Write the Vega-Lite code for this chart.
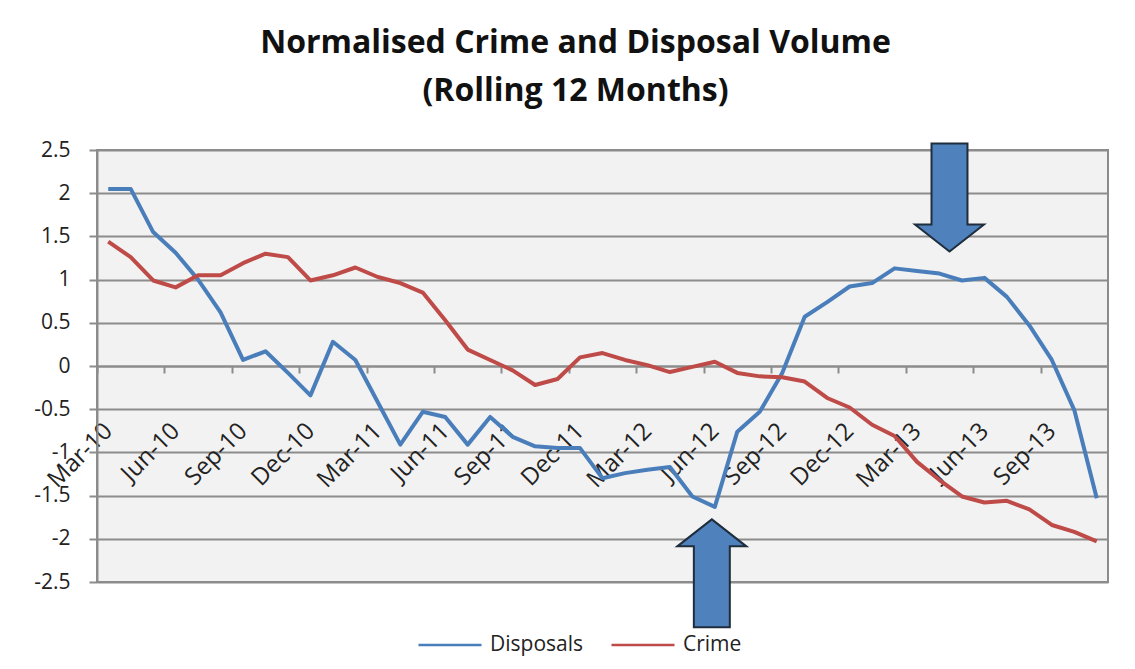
{
  "$schema": "https://vega.github.io/schema/vega-lite/v6.json",
  "width": 1011,
  "height": 432,
  "autosize": {"type": "none"},
  "padding": {"left": 97, "top": 150, "right": 27, "bottom": 87},
  "background": "white",
  "title": {
    "text": ["Normalised Crime and Disposal Volume", "(Rolling 12 Months)"],
    "font": "Open Sans",
    "fontSize": 32,
    "fontWeight": "bold",
    "color": "#111111",
    "anchor": "middle",
    "dx": -27,
    "offset": 31,
    "lineHeight": 48
  },
  "config": {
    "view": {"fill": "#f2f2f2", "stroke": "#8c8c8c", "strokeWidth": 2},
    "axis": {"labelFont": "Open Sans", "labelColor": "#222222"}
  },
  "datasets": {
    "series": [
      {"Month": "Mar-10", "Series": "Disposals", "Value": 2.05},
      {"Month": "Apr-10", "Series": "Disposals", "Value": 2.05},
      {"Month": "May-10", "Series": "Disposals", "Value": 1.55},
      {"Month": "Jun-10", "Series": "Disposals", "Value": 1.31},
      {"Month": "Jul-10", "Series": "Disposals", "Value": 1.0},
      {"Month": "Aug-10", "Series": "Disposals", "Value": 0.62},
      {"Month": "Sep-10", "Series": "Disposals", "Value": 0.07},
      {"Month": "Oct-10", "Series": "Disposals", "Value": 0.17},
      {"Month": "Nov-10", "Series": "Disposals", "Value": -0.08},
      {"Month": "Dec-10", "Series": "Disposals", "Value": -0.34},
      {"Month": "Jan-11", "Series": "Disposals", "Value": 0.28},
      {"Month": "Feb-11", "Series": "Disposals", "Value": 0.07},
      {"Month": "Mar-11", "Series": "Disposals", "Value": -0.42},
      {"Month": "Apr-11", "Series": "Disposals", "Value": -0.91},
      {"Month": "May-11", "Series": "Disposals", "Value": -0.53},
      {"Month": "Jun-11", "Series": "Disposals", "Value": -0.59},
      {"Month": "Jul-11", "Series": "Disposals", "Value": -0.91},
      {"Month": "Aug-11", "Series": "Disposals", "Value": -0.59},
      {"Month": "Sep-11", "Series": "Disposals", "Value": -0.82},
      {"Month": "Oct-11", "Series": "Disposals", "Value": -0.93},
      {"Month": "Nov-11", "Series": "Disposals", "Value": -0.95},
      {"Month": "Dec-11", "Series": "Disposals", "Value": -0.95},
      {"Month": "Jan-12", "Series": "Disposals", "Value": -1.3},
      {"Month": "Feb-12", "Series": "Disposals", "Value": -1.24},
      {"Month": "Mar-12", "Series": "Disposals", "Value": -1.2},
      {"Month": "Apr-12", "Series": "Disposals", "Value": -1.17},
      {"Month": "May-12", "Series": "Disposals", "Value": -1.51},
      {"Month": "Jun-12", "Series": "Disposals", "Value": -1.63},
      {"Month": "Jul-12", "Series": "Disposals", "Value": -0.76},
      {"Month": "Aug-12", "Series": "Disposals", "Value": -0.53},
      {"Month": "Sep-12", "Series": "Disposals", "Value": -0.08},
      {"Month": "Oct-12", "Series": "Disposals", "Value": 0.57},
      {"Month": "Nov-12", "Series": "Disposals", "Value": 0.74},
      {"Month": "Dec-12", "Series": "Disposals", "Value": 0.92},
      {"Month": "Jan-13", "Series": "Disposals", "Value": 0.96},
      {"Month": "Feb-13", "Series": "Disposals", "Value": 1.13},
      {"Month": "Mar-13", "Series": "Disposals", "Value": 1.1},
      {"Month": "Apr-13", "Series": "Disposals", "Value": 1.07},
      {"Month": "May-13", "Series": "Disposals", "Value": 0.99},
      {"Month": "Jun-13", "Series": "Disposals", "Value": 1.02},
      {"Month": "Jul-13", "Series": "Disposals", "Value": 0.8},
      {"Month": "Aug-13", "Series": "Disposals", "Value": 0.47},
      {"Month": "Sep-13", "Series": "Disposals", "Value": 0.07},
      {"Month": "Oct-13", "Series": "Disposals", "Value": -0.51},
      {"Month": "Nov-13", "Series": "Disposals", "Value": -1.53},
      {"Month": "Mar-10", "Series": "Crime", "Value": 1.44},
      {"Month": "Apr-10", "Series": "Crime", "Value": 1.26},
      {"Month": "May-10", "Series": "Crime", "Value": 0.99},
      {"Month": "Jun-10", "Series": "Crime", "Value": 0.91},
      {"Month": "Jul-10", "Series": "Crime", "Value": 1.05},
      {"Month": "Aug-10", "Series": "Crime", "Value": 1.05},
      {"Month": "Sep-10", "Series": "Crime", "Value": 1.19},
      {"Month": "Oct-10", "Series": "Crime", "Value": 1.3},
      {"Month": "Nov-10", "Series": "Crime", "Value": 1.26},
      {"Month": "Dec-10", "Series": "Crime", "Value": 0.99},
      {"Month": "Jan-11", "Series": "Crime", "Value": 1.05},
      {"Month": "Feb-11", "Series": "Crime", "Value": 1.14},
      {"Month": "Mar-11", "Series": "Crime", "Value": 1.03},
      {"Month": "Apr-11", "Series": "Crime", "Value": 0.96},
      {"Month": "May-11", "Series": "Crime", "Value": 0.85},
      {"Month": "Jun-11", "Series": "Crime", "Value": 0.53},
      {"Month": "Jul-11", "Series": "Crime", "Value": 0.19},
      {"Month": "Aug-11", "Series": "Crime", "Value": 0.07},
      {"Month": "Sep-11", "Series": "Crime", "Value": -0.05},
      {"Month": "Oct-11", "Series": "Crime", "Value": -0.22},
      {"Month": "Nov-11", "Series": "Crime", "Value": -0.15},
      {"Month": "Dec-11", "Series": "Crime", "Value": 0.1},
      {"Month": "Jan-12", "Series": "Crime", "Value": 0.15},
      {"Month": "Feb-12", "Series": "Crime", "Value": 0.07},
      {"Month": "Mar-12", "Series": "Crime", "Value": 0.01},
      {"Month": "Apr-12", "Series": "Crime", "Value": -0.07},
      {"Month": "May-12", "Series": "Crime", "Value": -0.01},
      {"Month": "Jun-12", "Series": "Crime", "Value": 0.05},
      {"Month": "Jul-12", "Series": "Crime", "Value": -0.08},
      {"Month": "Aug-12", "Series": "Crime", "Value": -0.12},
      {"Month": "Sep-12", "Series": "Crime", "Value": -0.13},
      {"Month": "Oct-12", "Series": "Crime", "Value": -0.18},
      {"Month": "Nov-12", "Series": "Crime", "Value": -0.37},
      {"Month": "Dec-12", "Series": "Crime", "Value": -0.48},
      {"Month": "Jan-13", "Series": "Crime", "Value": -0.68},
      {"Month": "Feb-13", "Series": "Crime", "Value": -0.81},
      {"Month": "Mar-13", "Series": "Crime", "Value": -1.11},
      {"Month": "Apr-13", "Series": "Crime", "Value": -1.32},
      {"Month": "May-13", "Series": "Crime", "Value": -1.51},
      {"Month": "Jun-13", "Series": "Crime", "Value": -1.58},
      {"Month": "Jul-13", "Series": "Crime", "Value": -1.56},
      {"Month": "Aug-13", "Series": "Crime", "Value": -1.66},
      {"Month": "Sep-13", "Series": "Crime", "Value": -1.84},
      {"Month": "Oct-13", "Series": "Crime", "Value": -1.92},
      {"Month": "Nov-13", "Series": "Crime", "Value": -2.03}
    ]
  },
  "layer": [
    {
      "data": {"name": "series"},
      "mark": {"type": "line", "strokeWidth": 4, "strokeJoin": "round"},
      "encoding": {
        "x": {
          "field": "Month",
          "type": "ordinal",
          "sort": null,
          "scale": {"type": "point", "padding": 0.5},
          "title": null,
          "axis": {
            "values": ["Mar-10", "Jun-10", "Sep-10", "Dec-10", "Mar-11", "Jun-11", "Sep-11", "Dec-11", "Mar-12", "Jun-12", "Sep-12", "Dec-12", "Mar-13", "Jun-13", "Sep-13"],
            "offset": -216,
            "domainColor": "#8c8c8c",
            "domainWidth": 2,
            "tickColor": "#8c8c8c",
            "tickWidth": 2,
            "tickSize": 7,
            "tickOffset": -11.23,
            "labelOffset": 11.23,
            "labelAngle": -45,
            "labelAlign": "right",
            "labelBaseline": "middle",
            "labelPadding": 54,
            "labelFontSize": 24,
            "grid": false
          }
        },
        "y": {
          "field": "Value",
          "type": "quantitative",
          "scale": {"domain": [-2.5, 2.5], "nice": false, "zero": false},
          "title": null,
          "axis": {
            "values": [-2.5, -2, -1.5, -1, -0.5, 0, 0.5, 1, 1.5, 2, 2.5],
            "labelExpr": "'' + datum.value",
            "labelFontSize": 21,
            "labelPadding": 19,
            "tickSize": 8,
            "tickColor": "#8c8c8c",
            "tickWidth": 2,
            "domainColor": "#8c8c8c",
            "domainWidth": 2,
            "grid": true,
            "gridColor": "#8c8c8c",
            "gridWidth": 2
          }
        },
        "color": {
          "field": "Series",
          "type": "nominal",
          "sort": ["Disposals", "Crime"],
          "scale": {"domain": ["Disposals", "Crime"], "range": ["#4a7ebb", "#be4b48"]},
          "legend": {
            "title": null,
            "orient": "none",
            "direction": "horizontal",
            "legendX": 320,
            "legendY": 462,
            "symbolType": "stroke",
            "symbolSize": 3969,
            "symbolStrokeWidth": 2.5,
            "labelFont": "Open Sans",
            "labelFontSize": 21,
            "labelColor": "#222222",
            "labelOffset": 7,
            "columnPadding": 22
          }
        }
      }
    },
    {
      "data": {"values": [{"Month": "Apr-13", "Value": 1.95}]},
      "mark": {
        "type": "point",
        "shape": "M-0.333,-1L0.333,-1L0.333,0.5L0.639,0.5L0,1L-0.639,0.5L-0.333,0.5Z",
        "size": 11664,
        "filled": true,
        "fill": "#4f81bd",
        "fillOpacity": 1,
        "stroke": "#1f2d3d",
        "strokeWidth": 2,
        "opacity": 1,
        "xOffset": 10
      },
      "encoding": {
        "x": {"field": "Month", "type": "ordinal", "sort": null},
        "y": {"field": "Value", "type": "quantitative"}
      }
    },
    {
      "data": {"values": [{"Month": "Jun-12", "Value": -2.4}]},
      "mark": {
        "type": "point",
        "shape": "M-0.333,1L0.333,1L0.333,-0.5L0.639,-0.5L0,-1L-0.639,-0.5L-0.333,-0.5Z",
        "size": 11664,
        "filled": true,
        "fill": "#4f81bd",
        "fillOpacity": 1,
        "stroke": "#1f2d3d",
        "strokeWidth": 2,
        "opacity": 1,
        "xOffset": -3
      },
      "encoding": {
        "x": {"field": "Month", "type": "ordinal", "sort": null},
        "y": {"field": "Value", "type": "quantitative"}
      }
    }
  ]
}
